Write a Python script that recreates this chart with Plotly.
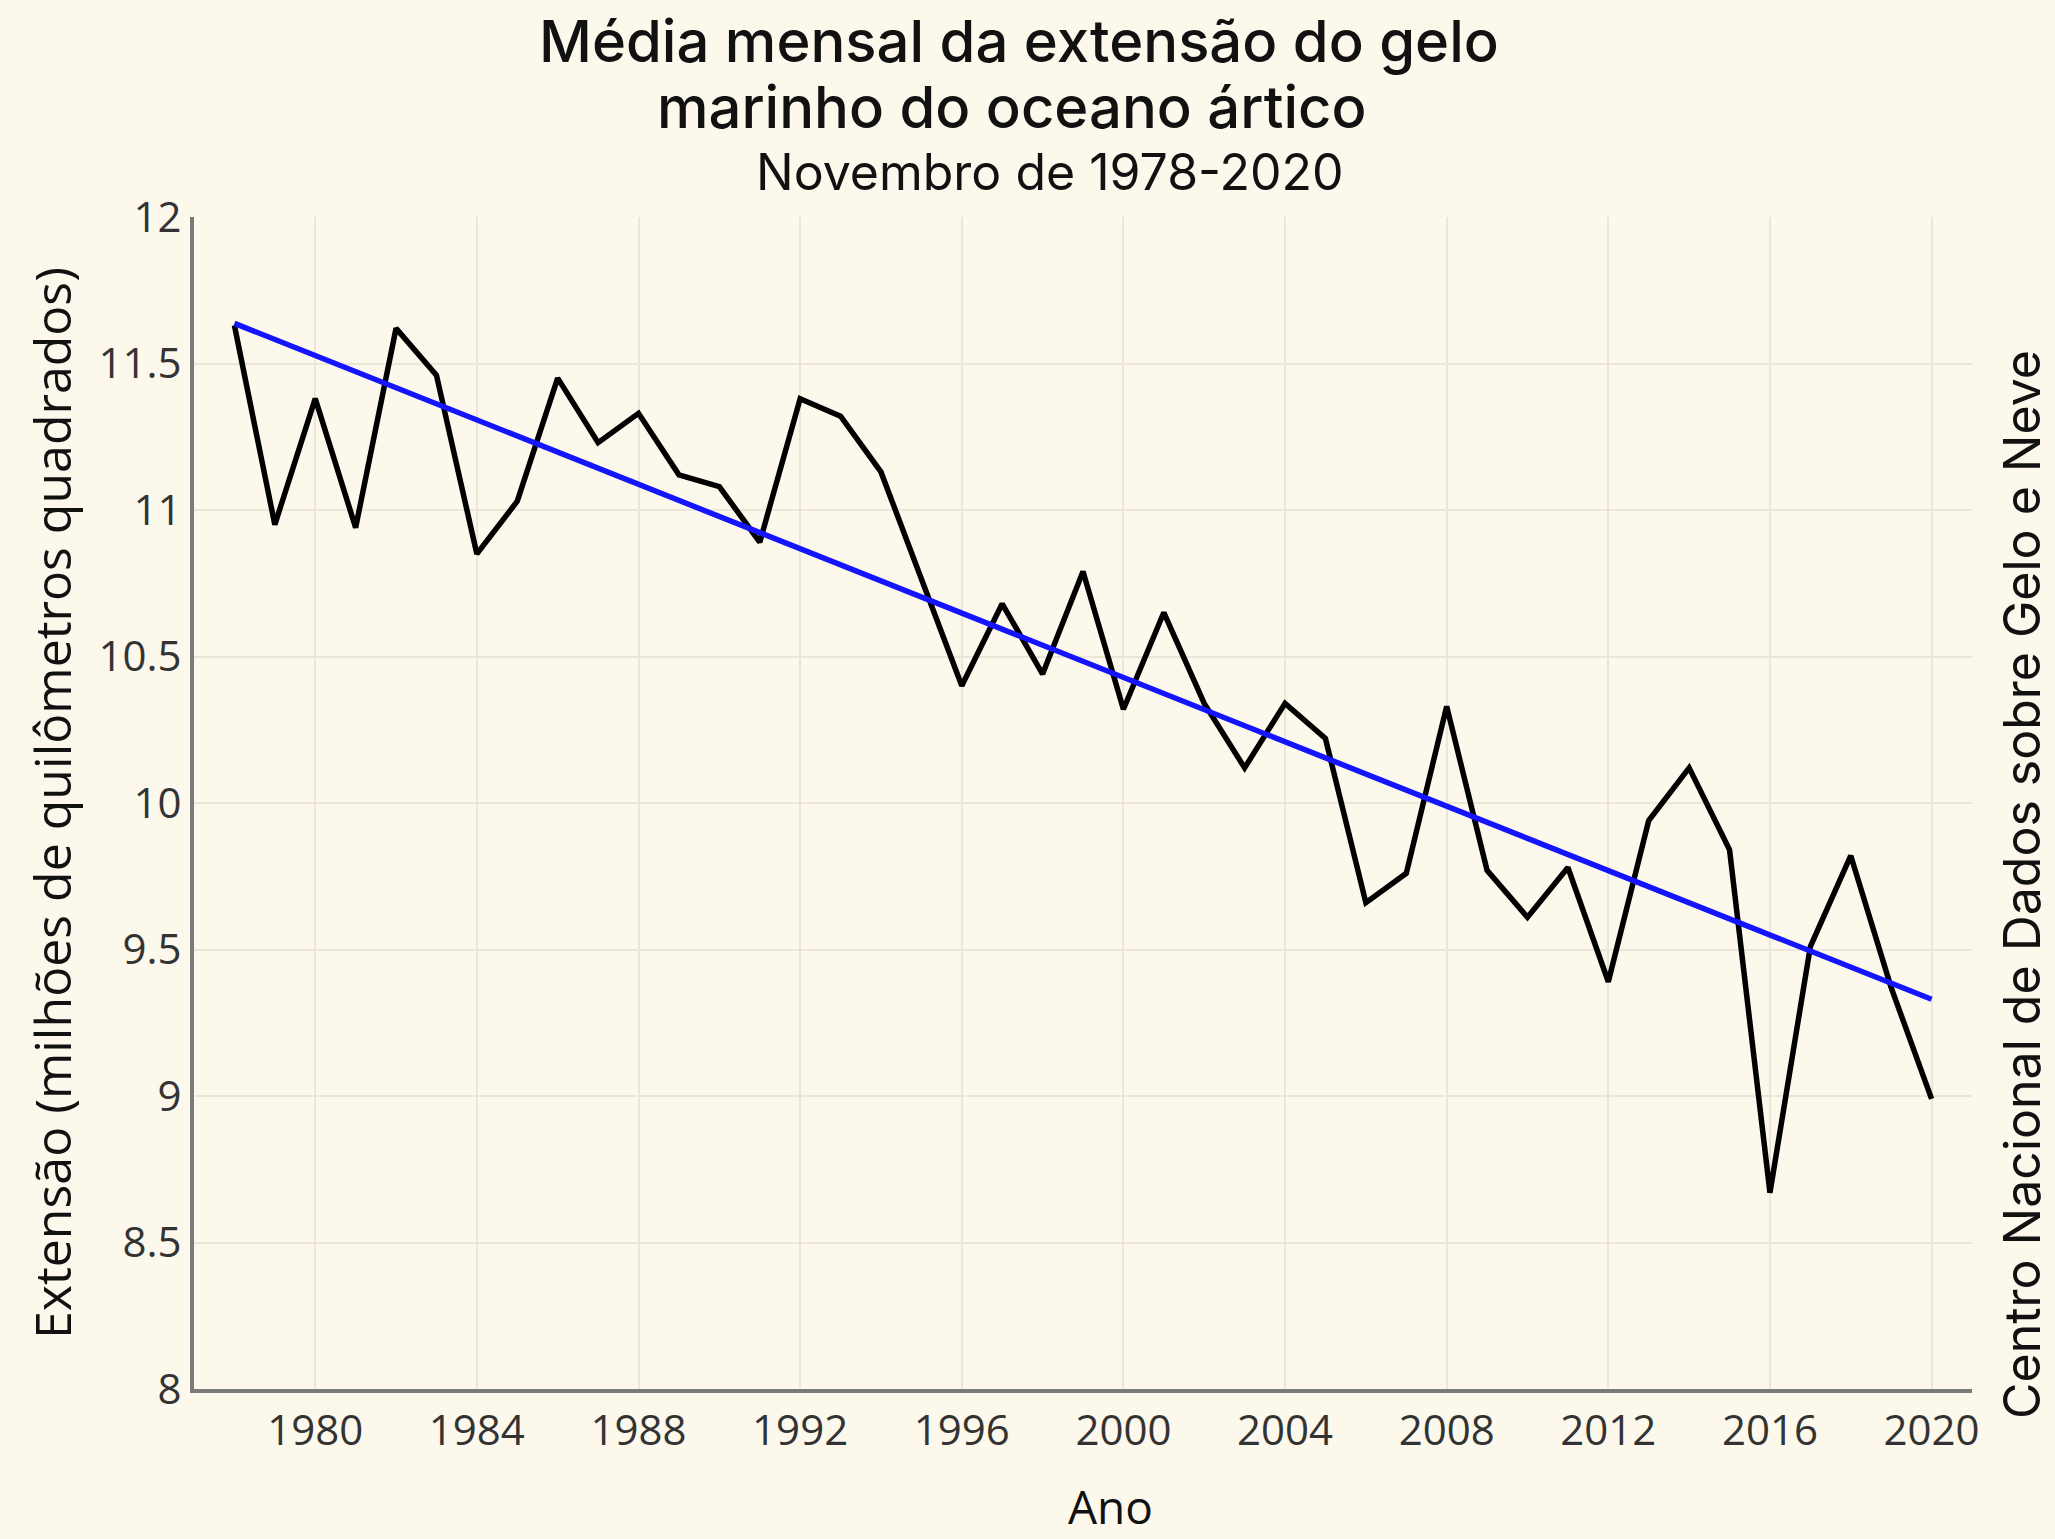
import plotly.graph_objects as go

years = list(range(1978, 2021))
extent = [11.63, 10.95, 11.38, 10.94, 11.62, 11.46, 10.85, 11.03, 11.45, 11.23,
          11.33, 11.12, 11.08, 10.89, 11.38, 11.32, 11.13, 10.76, 10.40, 10.68,
          10.44, 10.79, 10.32, 10.65, 10.34, 10.12, 10.34, 10.22, 9.66, 9.76,
          10.33, 9.77, 9.61, 9.78, 9.39, 9.94, 10.12, 9.84, 8.67, 9.51,
          9.82, 9.37, 8.99]
trend_years = [1978, 2020]
trend_values = [11.637, 9.33]

x_ticks = [1980, 1984, 1988, 1992, 1996, 2000, 2004, 2008, 2012, 2016, 2020]
y_ticks = [8, 8.5, 9, 9.5, 10, 10.5, 11, 11.5, 12]
y_tick_labels = ["8", "8.5", "9", "9.5", "10", "10.5", "11", "11.5", "12"]

title_line1 = "Média mensal da extensão do gelo"
title_line2 = "marinho do oceano ártico"
subtitle_text = "Novembro de 1978-2020"
y_title = "Extensão (milhões de quilômetros quadrados)"
x_title = "Ano"
source_text = "Centro Nacional de Dados sobre Gelo e Neve"

BG = "#FCF8EC"
GRID = "#ECE6D8"
AXIS = "#7A7A7A"
TXT = "#111111"

L, R, T, B = 194, 1972, 217, 1389
PW, PH = R - L, B - T


def px(x):
    return (x - L) / PW


def py(y):
    return (B - y) / PH


fig = go.Figure()
fig.add_trace(go.Scatter(x=years, y=extent, mode="lines",
                         line=dict(color="black", width=5.5), showlegend=False))
fig.add_trace(go.Scatter(x=trend_years, y=trend_values, mode="lines",
                         line=dict(color="#1414FF", width=5.5), showlegend=False))

fig.update_layout(
    width=2055, height=1539,
    paper_bgcolor=BG, plot_bgcolor=BG,
    margin=dict(l=L, r=2055 - R, t=T, b=1539 - B, pad=0),
    showlegend=False,
    xaxis=dict(range=[1977, 2021], tickvals=x_ticks, showgrid=True, gridcolor=GRID,
               gridwidth=2, zeroline=False, showline=True, linecolor=AXIS, linewidth=4,
               ticks="", ticklabelstandoff=2,
               tickfont=dict(family="Open Sans", size=42, color="#333333")),
    yaxis=dict(range=[8, 12], tickvals=y_ticks, ticktext=y_tick_labels, showgrid=True,
               gridcolor=GRID, gridwidth=2, zeroline=False, showline=True,
               linecolor=AXIS, linewidth=4, ticks="", ticklabelstandoff=0,
               tickfont=dict(family="Open Sans", size=42, color="#333333")),
    annotations=[
        dict(text=title_line1, xref="paper", yref="paper", x=px(1019), y=py(41),
             xanchor="center", yanchor="middle", showarrow=False,
             font=dict(family="Inter", size=58, color=TXT, weight=500)),
        dict(text=title_line2, xref="paper", yref="paper", x=px(1012), y=py(107),
             xanchor="center", yanchor="middle", showarrow=False,
             font=dict(family="Inter", size=58, color=TXT, weight=500)),
        dict(text=subtitle_text, xref="paper", yref="paper", x=px(1050), y=py(172),
             xanchor="center", yanchor="middle", showarrow=False,
             font=dict(family="Inter", size=50, color=TXT)),
        dict(text=y_title, xref="paper", yref="paper", x=px(52), y=py(803),
             xanchor="center", yanchor="middle", textangle=-90, showarrow=False,
             font=dict(family="Open Sans", size=50, color=TXT)),
        dict(text=x_title, xref="paper", yref="paper", x=px(1110), y=py(1506),
             xanchor="center", yanchor="middle", showarrow=False,
             font=dict(family="Open Sans", size=46, color=TXT)),
        dict(text=source_text, xref="paper", yref="paper", x=px(2022), y=py(885),
             xanchor="center", yanchor="middle", textangle=-90,
             showarrow=False, font=dict(family="Inter", size=50, color=TXT)),
    ],
)

fig.write_html("out.html", config={"displayModeBar": False},
               post_script="document.body.style.margin='0';document.body.style.padding='0';"
                           "document.body.style.overflow='hidden';")
